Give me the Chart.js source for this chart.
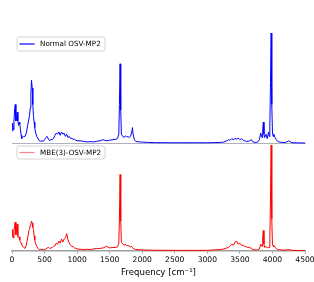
<!DOCTYPE html>
<html>
<head>
<meta charset="utf-8">
<script src="https://cdn.jsdelivr.net/npm/chart.js@4.4.0/dist/chart.umd.min.js"></script>
<style>
  body { margin: 0; background: #fff; }
  #wrap { position: relative; width: 314px; height: 282px; }
  canvas { position: absolute; left: 0; }
  #topChart { top: 0; }
  #bottomChart { top: 143px; }
</style>
</head>
<body>
<div id="wrap">
  <canvas id="topChart" width="314" height="147"></canvas>
  <canvas id="bottomChart" width="314" height="139"></canvas>
</div>
<script>
// frequency grid [cm^-1], shared by both spectra
var freqs = [
    0, 10, 20, 30, 40, 50, 60, 70, 80, 90,
    100, 110, 120, 130, 140, 150, 160, 180, 200, 220,
    240, 260, 270, 280, 290, 300, 310, 320, 330, 340,
    350, 360, 380, 400, 420, 440, 460, 480, 500, 520,
    540, 560, 580, 600, 620, 640, 660, 680, 700, 720,
    740, 760, 780, 800, 820, 840, 860, 880, 900, 920,
    940, 960, 980, 1000, 1050, 1100, 1150, 1200, 1250, 1300,
    1350, 1400, 1450, 1500, 1550, 1600, 1620, 1640, 1650, 1660,
    1670, 1680, 1700, 1720, 1740, 1760, 1780, 1800, 1820, 1840,
    1850, 1860, 1880, 1900, 1950, 2000, 2100, 2200, 2400, 2600,
    2800, 3000, 3200, 3250, 3300, 3325, 3350, 3375, 3400, 3425,
    3450, 3475, 3500, 3525, 3550, 3575, 3600, 3625, 3650, 3675,
    3700, 3725, 3750, 3775, 3800, 3820, 3840, 3850, 3860, 3870,
    3880, 3900, 3920, 3940, 3950, 3960, 3970, 3980, 3990, 4000,
    4010, 4020, 4040, 4060, 4080, 4100, 4150, 4200, 4250, 4300,
    4400, 4500
];

// normalised intensities, Normal OSV-MP2
var normalOsv = [
    0.11, 0.18, 0.12, 0.20, 0.30, 0.35, 0.20, 0.22, 0.28, 0.20,
    0.16, 0.19, 0.17, 0.12, 0.07, 0.04, 0.05, 0.06, 0.06, 0.09,
    0.16, 0.22, 0.25, 0.32, 0.45, 0.57, 0.50, 0.35, 0.24, 0.19,
    0.14, 0.10, 0.06, 0.04, 0.02, 0.015, 0.02, 0.015, 0.03, 0.05,
    0.06, 0.035, 0.02, 0.035, 0.03, 0.045, 0.07, 0.09, 0.08, 0.10,
    0.07, 0.10, 0.08, 0.09, 0.06, 0.08, 0.05, 0.06, 0.04, 0.045,
    0.03, 0.035, 0.025, 0.02, 0.02, 0.015, 0.01, 0.012, 0.01, 0.015,
    0.02, 0.03, 0.02, 0.025, 0.03, 0.035, 0.04, 0.08, 0.35, 0.72,
    0.30, 0.08, 0.06, 0.05, 0.065, 0.055, 0.06, 0.05, 0.06, 0.10,
    0.14, 0.08, 0.03, 0.015, 0.01, 0.008, 0.005, 0.003, 0.002, 0.002,
    0.002, 0.002, 0.005, 0.008, 0.02, 0.03, 0.025, 0.04, 0.03, 0.04,
    0.035, 0.045, 0.03, 0.04, 0.025, 0.02, 0.015, 0.015, 0.02, 0.03,
    0.01, 0.005, 0.005, 0.01, 0.03, 0.09, 0.05, 0.12, 0.19, 0.08,
    0.05, 0.08, 0.04, 0.10, 0.06, 0.15, 0.55, 1.00, 0.35, 0.10,
    0.06, 0.08, 0.05, 0.03, 0.015, 0.01, 0.005, 0.004, 0.02, 0.002,
    0.001, 0
];

// normalised intensities, MBE(3)-OSV-MP2
var mbeOsv = [
    0.13, 0.20, 0.12, 0.18, 0.24, 0.27, 0.15, 0.20, 0.25, 0.14,
    0.12, 0.13, 0.10, 0.08, 0.07, 0.06, 0.04, 0.03, 0.02, 0.05,
    0.12, 0.19, 0.20, 0.24, 0.25, 0.28, 0.26, 0.22, 0.20, 0.14,
    0.10, 0.07, 0.04, 0.02, 0.01, 0.012, 0.01, 0.008, 0.01, 0.015,
    0.025, 0.03, 0.02, 0.025, 0.03, 0.04, 0.045, 0.07, 0.06, 0.09,
    0.07, 0.11, 0.08, 0.11, 0.12, 0.16, 0.10, 0.07, 0.05, 0.04,
    0.035, 0.025, 0.02, 0.015, 0.012, 0.01, 0.012, 0.01, 0.015, 0.02,
    0.02, 0.025, 0.04, 0.025, 0.03, 0.03, 0.035, 0.07, 0.30, 0.72,
    0.28, 0.08, 0.065, 0.05, 0.06, 0.045, 0.05, 0.04, 0.035, 0.04,
    0.03, 0.02, 0.015, 0.01, 0.008, 0.006, 0.004, 0.003, 0.002, 0.002,
    0.002, 0.002, 0.01, 0.015, 0.025, 0.03, 0.045, 0.06, 0.05, 0.08,
    0.09, 0.06, 0.07, 0.05, 0.05, 0.04, 0.035, 0.03, 0.03, 0.02,
    0.01, 0.008, 0.005, 0.008, 0.015, 0.06, 0.04, 0.12, 0.19, 0.06,
    0.03, 0.04, 0.025, 0.03, 0.03, 0.10, 0.50, 1.00, 0.30, 0.06,
    0.04, 0.05, 0.03, 0.02, 0.01, 0.008, 0.005, 0.004, 0.01, 0.002,
    0.001, 0
];

var labelTop = 'Normal OSV-MP2';
var labelBottom = 'MBE(3)-OSV-MP2';

function toPoints(xs, ys) {
    var pts = [];
    for (let i = 0; i < xs.length; i++) pts.push({x: xs[i], y: ys[i]});
    return pts;
}

// matplotlib-ish legend box drawn inside the plot
var boxLegend = {
    id: 'boxLegend',
    afterDraw(chart, args, opts) {
        var ctx = chart.ctx;
        var x = opts.x, y = opts.y, w = opts.w, h = opts.h, r = 2;
        ctx.save();
        ctx.fillStyle = 'rgba(255,255,255,0.8)';
        ctx.strokeStyle = '#d4d4d4';
        ctx.lineWidth = 1;
        ctx.beginPath();
        ctx.moveTo(x + r, y);
        ctx.arcTo(x + w, y, x + w, y + h, r);
        ctx.arcTo(x + w, y + h, x, y + h, r);
        ctx.arcTo(x, y + h, x, y, r);
        ctx.arcTo(x, y, x + w, y, r);
        ctx.closePath();
        ctx.fill();
        ctx.stroke();

        ctx.strokeStyle = opts.color;
        ctx.lineWidth = 1.2;
        ctx.beginPath();
        ctx.moveTo(x + 2.5, y + h / 2);
        ctx.lineTo(x + 17.5, y + h / 2);
        ctx.stroke();

        ctx.fillStyle = '#000';
        ctx.font = '7.2px "DejaVu Sans"';
        ctx.textBaseline = 'middle';
        ctx.fillText(chart.data.datasets[0].label, x + 23, y + h / 2 + 0.5);
        ctx.restore();
    }
};

var topChart = new Chart(document.getElementById('topChart'), {
    type: 'line',
    data: {
        datasets: [{
            label: labelTop,
            data: toPoints(freqs, normalOsv),
            borderColor: '#0000ff',
            borderWidth: 1,
            pointRadius: 0,
            tension: 0,
            clip: false
        }]
    },
    options: {
        responsive: false,
        animation: false,
        layout: { padding: { left: 12, right: 9, top: 33, bottom: 4 } },
        plugins: {
            legend: { display: false },
            tooltip: { enabled: false },
            boxLegend: { x: 17, y: 37, w: 88, h: 14, color: '#0000ff' }
        },
        scales: {
            x: {
                type: 'linear', min: 0, max: 4500,
                ticks: { display: false },
                grid: { drawOnChartArea: false, drawTicks: false },
                border: { color: '#b0b0c0', width: 1 }
            },
            y: { display: false, min: 0, max: 1 }
        }
    },
    plugins: [boxLegend]
});

var bottomChart = new Chart(document.getElementById('bottomChart'), {
    type: 'line',
    data: {
        datasets: [{
            label: labelBottom,
            data: toPoints(freqs, mbeOsv),
            borderColor: '#ff0000',
            borderWidth: 1,
            pointRadius: 0,
            tension: 0,
            clip: false
        }]
    },
    options: {
        responsive: false,
        animation: false,
        layout: { padding: { left: 12, right: 9, top: 2, bottom: 4 } },
        plugins: {
            legend: { display: false },
            tooltip: { enabled: false },
            boxLegend: { x: 17, y: 3, w: 88, h: 13, color: '#ff8080' }
        },
        scales: {
            x: {
                type: 'linear', min: 0, max: 4500,
                // keep the plot width equal to the top panel
                afterFit: function (scale) { scale.paddingLeft = 0; scale.paddingRight = 0; },
                ticks: {
                    stepSize: 500, maxRotation: 0, padding: 2, color: '#000',
                    font: { family: 'DejaVu Sans', size: 7.6 },
                    callback: function (v) { return String(v); }
                },
                grid: { drawOnChartArea: false, tickLength: 3, color: '#a0a0a0', tickWidth: 1 },
                border: { color: '#a0a0a0', width: 1.5 },
                title: {
                    display: true, text: 'Frequency [cm⁻¹]', color: '#000',
                    font: { family: 'DejaVu Sans', size: 8.6 },
                    padding: { top: 1, bottom: 0 }
                }
            },
            y: { display: false, min: 0, max: 1 }
        }
    },
    plugins: [boxLegend]
});
</script>
</body>
</html>
